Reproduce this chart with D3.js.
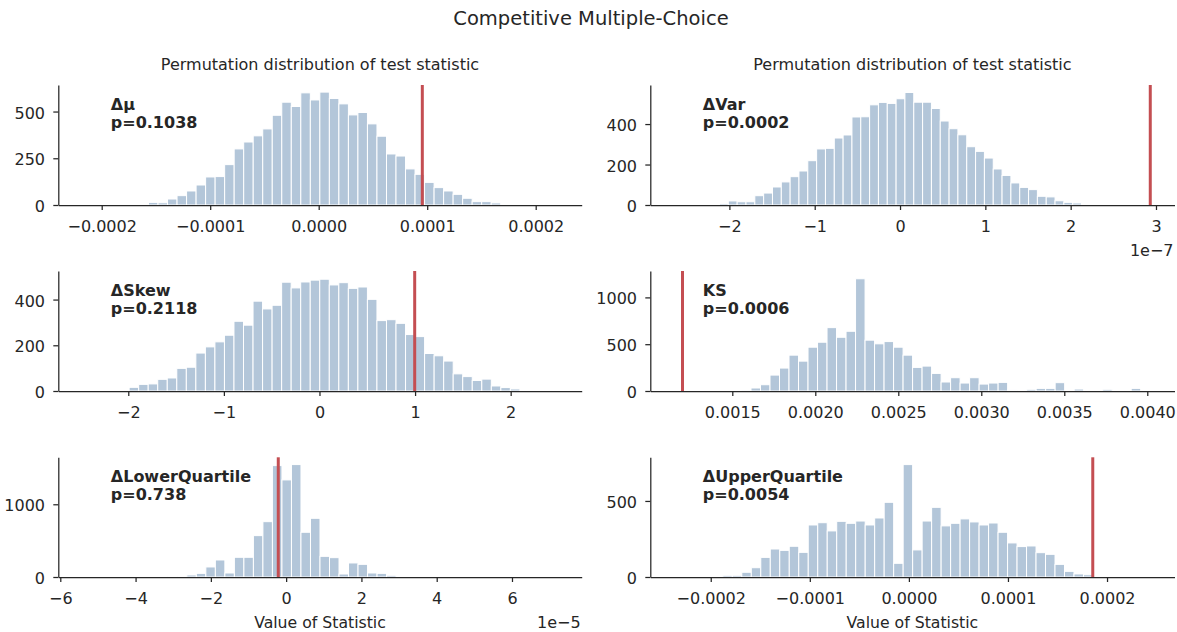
<!DOCTYPE html>
<html>
<head>
<meta charset="utf-8">
<script src="https://cdn.jsdelivr.net/npm/d3@7"></script>
<style>
  html, body { margin: 0; padding: 0; background: #fff; }
  svg { display: block; }
  text { font-family: "DejaVu Sans", sans-serif; fill: #262626; }
</style>
</head>
<body>
<svg id="chart" width="1177" height="632"></svg>
<script>
// ---------------- DATA ----------------
const figureTitle = "Competitive Multiple-Choice";
const panelTitle = "Permutation distribution of test statistic";
const xAxisLabel = "Value of Statistic";

const statNames = ["Δμ", "ΔVar", "ΔSkew", "KS", "ΔLowerQuartile", "ΔUpperQuartile"];
const pValues   = ["0.1038", "0.0002", "0.2118", "0.0006", "0.738", "0.0054"];
const observed  = [9.55e-5, 2.933e-7, 0.996, 0.0012, -2.09e-6, 1.856e-4];

// left edge of first drawn bin and bin width (data units)
const binStart = [-1.5687e-4, -2.116e-7, -1.991, 0.0015554, -3.144e-5, -1.878e-4];
const binWidth = [8.774e-6, 1.035e-8, 0.0997, 5.726e-5, 2.527e-6, 9.58e-6];

const countsMu = [14,12,32,50,75,107,150,152,216,300,337,370,407,480,550,527,600,562,604,570,541,482,495,434,368,273,262,193,164,121,93,75,57,36,18,18,11];
const countsVar = [7,20,16,16,46,59,89,114,140,168,219,277,280,331,346,435,436,495,507,502,525,556,508,508,477,415,377,347,288,265,232,178,146,109,87,76,43,40,21,13,10];
const countsSkew = [16,29,31,51,57,99,104,166,193,215,244,305,288,393,359,375,476,451,477,485,489,464,474,449,455,401,308,312,296,247,238,164,154,131,75,63,46,52,22,15,9];
const countsKS = [3,32,67,170,245,383,319,468,521,677,574,638,1199,543,504,528,468,383,252,266,188,96,142,85,142,74,85,92,11,0,18,28,28,89,0,21,0,0,18,0,0,28];
const countsLowerQ = [9,0,28,50,138,234,55,271,271,569,761,1532,1335,1546,615,807,284,266,41,193,174,55,50,23];
const countsUpperQ = [11,11,31,61,129,184,175,202,162,342,357,303,366,353,368,342,388,491,90,739,178,368,458,336,353,382,362,342,355,294,224,200,204,160,149,83,37,20,15];
const allCounts = [countsMu, countsVar, countsSkew, countsKS, countsLowerQ, countsUpperQ];

const xLimits = [[-2.400e-4, 2.424e-4], [-2.927e-7, 3.217e-7], [-2.732, 2.743],
                 [0.001006, 0.004164], [-6.053e-5, 7.852e-5], [-2.610e-4, 2.681e-4]];
const yMax = [642, 593, 525, 1282, 1646, 787];

const xTicks = [
  [-0.0002, -0.0001, 0, 0.0001, 0.0002],
  [-2e-7, -1e-7, 0, 1e-7, 2e-7, 3e-7],
  [-2, -1, 0, 1, 2],
  [0.0015, 0.0020, 0.0025, 0.0030, 0.0035, 0.0040],
  [-6e-5, -4e-5, -2e-5, 0, 2e-5, 4e-5, 6e-5],
  [-0.0002, -0.0001, 0, 0.0001, 0.0002]
];
const yTicks = [[0,250,500],[0,200,400],[0,200,400],[0,500,1000],[0,1000],[0,500]];
const offsetExp = [null, -7, null, null, -5, null];   // tick label multiplier exponent
const tickDecimals = [4, 0, 0, 4, 0, 4];

// ---------------- LAYOUT / STYLE ----------------
const colX = [[58.3, 581.7], [650.3, 1174.5]];
const rowY = [[85, 205], [271, 391], [457.3, 577]];
const barColor = "#b3c6d9";
const lineColor = "#c44e52";
const inkColor = "#262626";
const tickFont = 16;

const svg = d3.select("#chart");

svg.append("text")
  .attr("x", 591).attr("y", 25)
  .attr("text-anchor", "middle")
  .style("font-size", "19.5px")
  .text(figureTitle);

allCounts.forEach((counts, p) => {
  const col = p % 2, row = Math.floor(p / 2);
  const [x0, x1] = colX[col];
  const [y0, y1] = rowY[row];

  const x = d3.scaleLinear().domain(xLimits[p]).range([x0, x1]);
  const y = d3.scaleLinear().domain([0, yMax[p]]).range([y1, y0]);

  const g = svg.append("g");

  // bars
  const bins = counts.map((c, i) => ({
    lo: binStart[p] + i * binWidth[p],
    hi: binStart[p] + (i + 1) * binWidth[p],
    c
  })).filter(d => d.c > 0);

  g.selectAll("rect.bar").data(bins).enter().append("rect")
    .attr("class", "bar")
    .attr("x", d => x(d.lo))
    .attr("width", d => x(d.hi) - x(d.lo))
    .attr("y", d => y(d.c))
    .attr("height", d => y(0) - y(d.c))
    .attr("fill", barColor)
    .attr("stroke", "#ffffff")
    .attr("stroke-width", 1);

  // observed line
  g.append("line")
    .attr("x1", x(observed[p])).attr("x2", x(observed[p]))
    .attr("y1", y0).attr("y2", y1)
    .attr("stroke", lineColor)
    .attr("stroke-width", 3);

  // axes
  const scaleF = offsetExp[p] === null ? 1 : Math.pow(10, offsetExp[p]);
  const fmt = d3.format("." + tickDecimals[p] + "f");
  const xAxis = d3.axisBottom(x)
    .tickValues(xTicks[p])
    .tickFormat(v => fmt(Math.round(v / scaleF * 1e6) / 1e6))
    .tickSize(5).tickPadding(10.3).tickSizeOuter(0);
  const yAxis = d3.axisLeft(y)
    .tickValues(yTicks[p])
    .tickFormat(d3.format("d"))
    .tickSize(5).tickPadding(8.3).tickSizeOuter(0);

  const gx = g.append("g").attr("transform", `translate(0,${y1})`).call(xAxis);
  const gy = g.append("g").attr("transform", `translate(${x0},0)`).call(yAxis);
  [gx, gy].forEach(a => {
    a.attr("font-family", null).attr("font-size", null);
    a.selectAll("path.domain").attr("stroke", inkColor).attr("stroke-width", 1.25);
    a.selectAll(".tick line").attr("stroke", inkColor).attr("stroke-width", 1.25);
    a.selectAll(".tick text").style("font-size", tickFont + "px").attr("fill", inkColor);
  });
  gy.selectAll(".tick text").attr("dy", "0.41em");

  // annotation
  const ann = g.append("text")
    .attr("x", x0 + 52.5).attr("y", y0 + 25)
    .style("font-size", "16px").style("font-weight", "bold");
  ann.append("tspan").attr("x", x0 + 52.5).text(statNames[p]);
  ann.append("tspan").attr("x", x0 + 52.5).attr("y", y0 + 42.7).text("p=" + pValues[p]);

  // offset text
  if (offsetExp[p] !== null) {
    g.append("text")
      .attr("x", x1 - 1).attr("y", y1 + 50.5)
      .attr("text-anchor", "end")
      .style("font-size", tickFont + "px")
      .text("1e" + d3.format("d")(offsetExp[p]));
  }

  if (row === 0) {
    g.append("text")
      .attr("x", (x0 + x1) / 2).attr("y", 70)
      .attr("text-anchor", "middle")
      .style("font-size", "16px")
      .text(panelTitle);
  }
  if (row === 2) {
    g.append("text")
      .attr("x", (x0 + x1) / 2).attr("y", 627.5)
      .attr("text-anchor", "middle")
      .style("font-size", "15.7px")
      .text(xAxisLabel);
  }
});
</script>
</body>
</html>
